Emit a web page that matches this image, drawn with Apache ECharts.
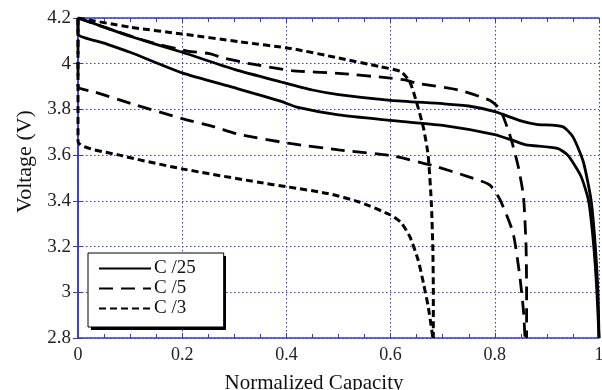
<!DOCTYPE html>
<html>
<head>
<meta charset="utf-8">
<script src="https://cdn.jsdelivr.net/npm/echarts@6/dist/echarts.min.js"></script>
<style>html,body{margin:0;padding:0;background:#fff}#c{width:602px;height:390px}</style>
</head>
<body>
<div id="c"></div>
<script>
// ---- data (Normalized Capacity, Voltage V) ----
var legendNames = ['C /25', 'C /5', 'C /3'];
var xTicks = [0, 0.2, 0.4, 0.6, 0.8, 1];
var yTicks = [2.8, 3, 3.2, 3.4, 3.6, 3.8, 4, 4.2];

var c25Upper = [[0,4.2],[0.05,4.16],[0.1,4.12],[0.2,4.05],[0.3,3.975],[0.39,3.92],[0.45,3.885],[0.5,3.865],[0.6,3.84],[0.7,3.825],[0.75,3.815],[0.8,3.79],[0.85,3.75],[0.88,3.735],[0.93,3.725],[0.95,3.68],[0.97,3.57],[0.985,3.4],[0.993,3.2],[0.998,3.0],[1.0,2.8]];
var c25Lower = [[0,4.2],[0,4.13],[0.05,4.09],[0.1,4.05],[0.2,3.96],[0.3,3.895],[0.39,3.835],[0.42,3.81],[0.5,3.776],[0.6,3.752],[0.7,3.73],[0.8,3.69],[0.84,3.66],[0.86,3.645],[0.92,3.63],[0.94,3.6],[0.965,3.51],[0.98,3.4],[0.99,3.2],[0.996,3.0],[1.0,2.8]];
var c5Upper = [[0,4.2],[0.05,4.16],[0.13,4.1],[0.21,4.055],[0.25,4.045],[0.28,4.025],[0.33,4.0],[0.41,3.97],[0.5,3.958],[0.6,3.937],[0.625,3.93],[0.65,3.915],[0.73,3.885],[0.79,3.84],[0.81,3.8],[0.83,3.68],[0.845,3.55],[0.855,3.42],[0.86,3.2],[0.861,3.0],[0.861,2.8]];
var c5Lower = [[0,4.2],[0,3.9],[0.03,3.878],[0.11,3.82],[0.2,3.76],[0.26,3.725],[0.31,3.69],[0.41,3.65],[0.5,3.623],[0.6,3.598],[0.68,3.555],[0.75,3.505],[0.79,3.47],[0.81,3.405],[0.835,3.26],[0.848,3.07],[0.855,2.92],[0.858,2.8]];
var c3Upper = [[0,4.2],[0.1,4.16],[0.2,4.13],[0.31,4.096],[0.41,4.066],[0.5,4.025],[0.58,3.987],[0.62,3.965],[0.637,3.92],[0.65,3.83],[0.663,3.72],[0.672,3.6],[0.678,3.4],[0.681,3.2],[0.682,3.0],[0.682,2.8]];
var c3Lower = [[0,4.2],[0,3.66],[0.08,3.6],[0.2,3.54],[0.35,3.48],[0.4,3.462],[0.48,3.432],[0.54,3.395],[0.6,3.338],[0.62,3.305],[0.637,3.243],[0.653,3.14],[0.663,3.04],[0.672,2.94],[0.679,2.835],[0.681,2.8]];

var FONT = 'Liberation Serif';
var BLUE = '#3434e8';
var styles = {
  'C /25': {type: 'solid', width: 2.8},
  'C /5': {type: [14, 8], width: 2.8},
  'C /3': {type: [7, 4], width: 3}
};
function mk(name, data) {
  return {
    name: name, type: 'line', data: data, showSymbol: false, symbol: 'none',
    smooth: 0.2, xAxisIndex: 0, yAxisIndex: 0, silent: true, animation: false,
    lineStyle: {color: '#000', type: styles[name].type, width: styles[name].width},
    itemStyle: {color: '#000'}
  };
}
var xMin = xTicks[0], xMax = xTicks[xTicks.length - 1];
var yMin = yTicks[0], yMax = yTicks[yTicks.length - 1];
var chart = echarts.init(document.getElementById('c'), null, {renderer: 'canvas'});
var xBase = {
  type: 'value', min: xMin, max: xMax, interval: 0.2,
  axisLine: {show: true, lineStyle: {color: BLUE, width: 1.5}},
  axisTick: {show: true, inside: true, length: 5, lineStyle: {color: BLUE}},
  minorTick: {show: true, splitNumber: 4, length: 4, lineStyle: {color: BLUE}},
  splitLine: {show: false}
};
var yBase = {
  type: 'value', min: yMin, max: yMax, interval: 0.2,
  axisLine: {show: true, lineStyle: {color: BLUE, width: 1.5}},
  axisTick: {show: true, inside: true, length: 5, lineStyle: {color: BLUE}},
  splitLine: {show: false}
};
chart.setOption({
  animation: false,
  backgroundColor: '#fff',
  grid: {left: 78, right: 3, top: 18, bottom: 52, containLabel: false, outerBoundsMode: 'none'},
  graphic: [{
    type: 'rect', z: 5, zlevel: 0, silent: true,
    shape: {x: 91, y: 256, width: 135, height: 74},
    style: {fill: '#000'}
  }],
  legend: {
    data: legendNames, z: 10,
    orient: 'vertical', left: 88, top: 253,
    padding: [6, 28, 9, 10], itemGap: 1, itemWidth: 52, itemHeight: 14,
    backgroundColor: '#fff', borderColor: '#000', borderWidth: 1,
    itemStyle: {opacity: 0},
    textStyle: {fontFamily: FONT, fontSize: 19, color: '#111', padding: [0, 0, 0, -2], lineHeight: 19},
    selectedMode: false
  },
  xAxis: [
    Object.assign({}, xBase, {
      position: 'bottom',
      axisLabel: {show: true, fontFamily: FONT, fontSize: 18, color: '#222', margin: 8,
        formatter: function (v) { return String(+v.toFixed(1)); }},
      splitLine: {show: true, lineStyle: {color: BLUE, type: [1.5, 2.5], width: 1}},
      name: 'Normalized Capacity', nameLocation: 'middle', nameGap: 35,
      nameTextStyle: {fontFamily: FONT, fontSize: 21, color: '#111', padding: [0, 49, 0, 0]}
    }),
    Object.assign({}, xBase, {position: 'top', axisLabel: {show: false}})
  ],
  yAxis: [
    Object.assign({}, yBase, {
      position: 'left',
      axisLabel: {show: true, fontFamily: FONT, fontSize: 19, color: '#222', margin: 7,
        formatter: function (v) { return String(+v.toFixed(1)); }},
      splitLine: {show: true, lineStyle: {color: BLUE, type: [1.5, 2.5], width: 1}},
      name: 'Voltage (V)', nameLocation: 'middle', nameGap: 41,
      nameTextStyle: {fontFamily: FONT, fontSize: 22, color: '#111', padding: [0, 0, 0, 33]}
    }),
    Object.assign({}, yBase, {position: 'right', axisLabel: {show: false}})
  ],
  series: [
    mk('C /25', c25Upper), mk('C /25', c25Lower),
    mk('C /5', c5Upper), mk('C /5', c5Lower),
    mk('C /3', c3Upper), mk('C /3', c3Lower)
  ]
});
</script>
</body>
</html>
